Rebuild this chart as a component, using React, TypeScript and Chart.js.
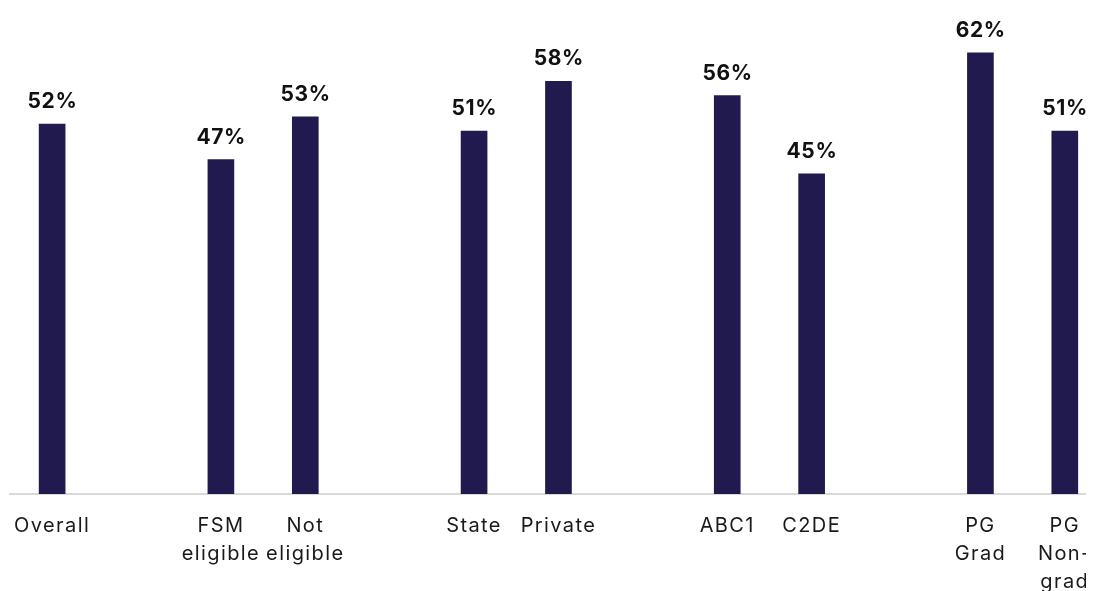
import React, { useEffect, useRef } from "react";
import { Chart, registerables } from "chart.js";

Chart.register(...registerables);

const categories: (string | string[])[] = [
  "Overall",
  "",
  ["FSM", "eligible"],
  ["Not", "eligible"],
  "",
  "State",
  "Private",
  "",
  "ABC1",
  "C2DE",
  "",
  ["PG", "Grad"],
  ["PG", "Non-", "grad"],
];

const values: (number | null)[] = [52, null, 47, 53, null, 51, 58, null, 56, 45, null, 62, 51];

const BAR_COLOR = "#211A4F";
const FONT = "Inter, 'Liberation Sans', Arial, sans-serif";

const letterSpacingPlugin = {
  id: "letterSpacing",
  beforeDraw(chart: any) {
    (chart.ctx as any).letterSpacing = "1.4px";
  },
};

const dataLabelPlugin = {
  id: "dataLabels",
  afterDatasetsDraw(chart: any) {
    const ctx = chart.ctx;
    const meta = chart.getDatasetMeta(0);
    ctx.save();
    (ctx as any).letterSpacing = "0.6px";
    ctx.font = `bold 21px ${FONT}`;
    ctx.fillStyle = "#111111";
    ctx.textAlign = "center";
    ctx.textBaseline = "alphabetic";
    meta.data.forEach((bar: any, i: number) => {
      const v = values[i];
      if (v === null || v === undefined) return;
      ctx.fillText(`${v}%`, bar.x + 0.3, bar.y - 16);
    });
    ctx.restore();
  },
};

export default function App() {
  const canvasRef = useRef<HTMLCanvasElement | null>(null);

  useEffect(() => {
    document.documentElement.style.overflow = "hidden";
    const canvas = canvasRef.current;
    if (!canvas) return;
    const chart = new Chart(canvas, {
      type: "bar",
      data: {
        labels: categories,
        datasets: [
          {
            data: values,
            backgroundColor: BAR_COLOR,
            borderWidth: 0,
            barThickness: 26,
          },
        ],
      },
      options: {
        animation: false,
        responsive: true,
        maintainAspectRatio: false,
        layout: { padding: { top: 0, left: 0, right: 0, bottom: 0 } },
        plugins: {
          legend: { display: false },
          tooltip: { enabled: false },
        },
        scales: {
          x: {
            offset: true,
            grid: { display: false, drawTicks: false },
            border: { display: true, color: "#D9D9D9", width: 2 },
            ticks: {
              autoSkip: false,
              maxRotation: 0,
              minRotation: 0,
              padding: 18,
              color: "#1A1A1A",
              font: { family: FONT, size: 20, lineHeight: 1.4 },
            },
          },
          y: {
            display: false,
            min: 0,
            max: 68.3,
          },
        },
      },
      plugins: [letterSpacingPlugin, dataLabelPlugin],
    });
    return () => chart.destroy();
  }, []);

  return (
    <div style={{ width: 1086, height: 583, overflow: "hidden" }}>
      <div style={{ width: 1106, height: 606, marginLeft: -7, position: "relative" }}>
        <canvas ref={canvasRef} />
      </div>
    </div>
  );
}
